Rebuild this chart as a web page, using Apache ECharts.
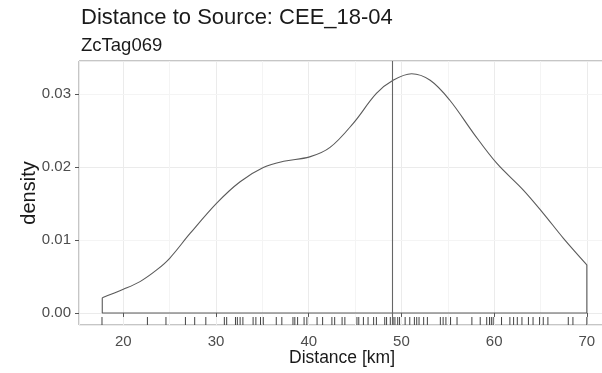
<!DOCTYPE html>
<html>
<head>
<meta charset="utf-8">
<script src="https://cdn.jsdelivr.net/npm/echarts@6/dist/echarts.min.js"></script>
<style>
  html, body { margin: 0; padding: 0; background: #fff; }
  #chart { width: 602px; height: 373px; }
</style>
</head>
<body>
<div id="chart"></div>
<script>
// density estimate: [distance km, density]
const densityCurve = [
  [17.73, 0.0021], [20.0, 0.00325], [21.8, 0.0043], [23.6, 0.0059],
  [25.0, 0.0075], [27.2, 0.0109], [30.1, 0.0151], [32.6, 0.0180],
  [35.1, 0.01995], [37.3, 0.0208], [40.1, 0.0214], [42.3, 0.0227],
  [44.8, 0.0260], [47.3, 0.0301], [49.1, 0.0319], [51.1, 0.0328],
  [53.1, 0.0319], [55.2, 0.0292], [57.8, 0.0246], [60.3, 0.0205],
  [63.15, 0.01685], [65.3, 0.01366], [67.5, 0.0102], [70.0, 0.0066]
];

// individual observations (rug)
const distances = [
  17.7, 22.6, 24.6, 26.7, 27.7, 28.9, 30.9, 31.15, 32.1, 32.3, 32.6, 32.9,
  34.0, 34.3, 34.8, 35.1, 36.5, 37.1, 38.3, 38.5, 38.8, 39.5, 39.8, 40.9,
  41.5, 42.5, 42.8, 43.6, 43.9, 45.2, 45.4, 45.9, 46.4, 47.0, 47.3, 48.2,
  48.4, 48.8, 49.1, 49.3, 49.6, 49.8, 50.4, 50.9, 51.4, 51.65, 51.9, 52.4,
  52.8, 54.2, 54.5, 54.8, 55.3, 56.0, 57.6, 58.5, 59.2, 59.5, 59.7, 59.9,
  60.8, 61.7, 62.1, 62.5, 63.0, 63.7, 64.2, 64.9, 65.3, 65.8, 68.0, 68.5,
  70.0
];

const refDistance = 49.06;
const xMinorBreaks = [25, 35, 45, 55, 65];
const yMinorBreaks = [0.005, 0.015, 0.025];

const first = densityCurve[0];
const last = densityCurve[densityCurve.length - 1];
const outline = [[first[0], first[1]], [first[0], 0], [last[0], 0], [last[0], last[1]]];

const chart = echarts.init(document.getElementById("chart"));
const font = "'Liberation Sans', Arial, sans-serif";
const minorColor = "#f4f4f4";

chart.setOption({
  animation: false,
  title: {
    text: "Distance to Source: CEE_18-04",
    subtext: "ZcTag069",
    left: 76,
    top: 2,
    itemGap: 7,
    textStyle: { fontFamily: font, fontSize: 22, fontWeight: "normal", color: "#1a1a1a" },
    subtextStyle: { fontFamily: font, fontSize: 18.5, color: "#1a1a1a" }
  },
  grid: {
    left: 79,
    top: 61,
    right: -3,
    bottom: 48,
    outerBoundsMode: "none",
    show: true,
    borderColor: "#8c8c8c",
    borderWidth: 1,
    backgroundColor: "#fff"
  },
  xAxis: {
    type: "value",
    min: 15.22,
    max: 71.96,
    splitNumber: 5,
    name: "Distance [km]",
    nameLocation: "middle",
    nameGap: 24,
    nameMoveOverlap: false,
    nameTextStyle: { fontFamily: font, fontSize: 17.5, color: "#1a1a1a" },
    axisLine: { show: false },
    axisTick: { show: true, length: 4, lineStyle: { color: "#555" } },
    axisLabel: {
      showMinLabel: false, showMaxLabel: false,
      margin: 9, fontFamily: font, fontSize: 15, color: "#4d4d4d"
    },
    splitLine: { show: true, lineStyle: { color: "#ebebeb", width: 1 } }
  },
  yAxis: {
    type: "value",
    min: -0.00165,
    max: 0.03455,
    splitNumber: 4,
    name: "density",
    nameLocation: "middle",
    nameGap: 40,
    nameMoveOverlap: false,
    nameTextStyle: { fontFamily: font, fontSize: 20, color: "#1a1a1a" },
    axisLine: { show: false },
    axisTick: { show: true, length: 4, lineStyle: { color: "#555" } },
    axisLabel: {
      showMinLabel: false, showMaxLabel: false,
      margin: 8, fontFamily: font, fontSize: 15, color: "#4d4d4d",
      formatter: v => v.toFixed(2)
    },
    splitLine: { show: true, lineStyle: { color: "#ebebeb", width: 1 } }
  },
  series: [
    {
      // minor grid lines
      type: "line",
      data: [],
      z: 1,
      silent: true,
      markLine: {
        z: 1,
        silent: true,
        symbol: "none",
        label: { show: false },
        lineStyle: { color: minorColor, type: "solid", width: 1 },
        data: xMinorBreaks.map(v => ({ xAxis: v }))
          .concat(yMinorBreaks.map(v => ({ yAxis: v })))
      }
    },
    {
      type: "line",
      data: densityCurve,
      smooth: 0.35,
      symbol: "none",
      lineStyle: { color: "#5a5a5a", width: 1.1 },
      z: 3,
      markLine: {
        silent: true,
        symbol: "none",
        label: { show: false },
        lineStyle: { color: "#666", type: "solid", width: 1.1 },
        data: [{ xAxis: refDistance }]
      }
    },
    {
      type: "line",
      data: outline,
      symbol: "none",
      lineStyle: { color: "#5a5a5a", width: 1.1 },
      z: 3
    },
    {
      type: "custom",
      data: distances,
      z: 4,
      silent: true,
      renderItem: (params, api) => {
        const x = api.coord([api.value(0), 0])[0];
        const bottom = params.coordSys.y + params.coordSys.height;
        return {
          type: "line",
          shape: { x1: x, y1: bottom, x2: x, y2: bottom - 8 },
          style: { stroke: "#444", lineWidth: 1 }
        };
      },
      encode: { x: 0 }
    }
  ]
});
</script>
</body>
</html>
